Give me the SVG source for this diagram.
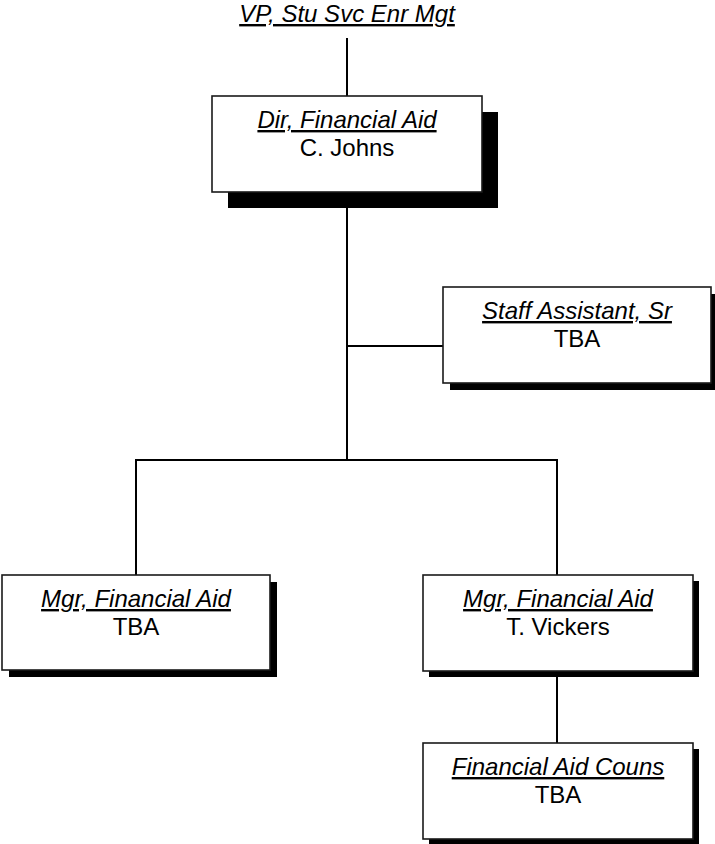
<svg xmlns="http://www.w3.org/2000/svg" width="715" height="844" viewBox="0 0 715 844">
<style>
.box{fill:#fff;stroke:#1a1a1a;stroke-width:1.6}
.sh{fill:#000}
.t{font-family:"Liberation Sans",Arial,sans-serif;font-size:24px;fill:#000;text-anchor:middle}
.ti{font-style:italic;text-decoration:underline}
.c{stroke:#000;stroke-width:2;fill:none}
</style>
<rect width="715" height="844" fill="#fff"/>
<g id="connectors">
<line class="c" x1="347" y1="38" x2="347" y2="96"/>
<line class="c" x1="347" y1="192" x2="347" y2="460"/>
<line class="c" x1="347" y1="346" x2="443" y2="346"/>
<polyline class="c" points="136,575 136,460 557,460 557,575"/>
<line class="c" x1="557" y1="671" x2="557" y2="743"/>
</g>
<g id="vp">
<text class="t ti" x="347" y="22">VP, Stu Svc Enr Mgt</text>
</g>
<g id="dir">
<rect class="sh" x="228" y="112" width="270" height="96"/>
<rect class="box" x="212" y="96" width="270" height="96"/>
<text class="t ti" x="347" y="128">Dir, Financial Aid</text>
<text class="t" x="347" y="156">C. Johns</text>
</g>
<g id="staff">
<rect class="sh" x="450" y="294" width="268" height="96"/>
<rect class="box" x="443" y="287" width="268" height="96"/>
<text class="t ti" x="577" y="319">Staff Assistant, Sr</text>
<text class="t" x="577" y="347">TBA</text>
</g>
<g id="mgr1">
<rect class="sh" x="9" y="582" width="268" height="95"/>
<rect class="box" x="2" y="575" width="268" height="95"/>
<text class="t ti" x="136" y="607">Mgr, Financial Aid</text>
<text class="t" x="136" y="635">TBA</text>
</g>
<g id="mgr2">
<rect class="sh" x="429" y="581" width="270" height="96"/>
<rect class="box" x="423" y="575" width="270" height="96"/>
<text class="t ti" x="558" y="607">Mgr, Financial Aid</text>
<text class="t" x="558" y="635">T. Vickers</text>
</g>
<g id="couns">
<rect class="sh" x="429" y="749" width="270" height="96"/>
<rect class="box" x="423" y="743" width="270" height="96"/>
<text class="t ti" x="558" y="775">Financial Aid Couns</text>
<text class="t" x="558" y="803">TBA</text>
</g>
</svg>
